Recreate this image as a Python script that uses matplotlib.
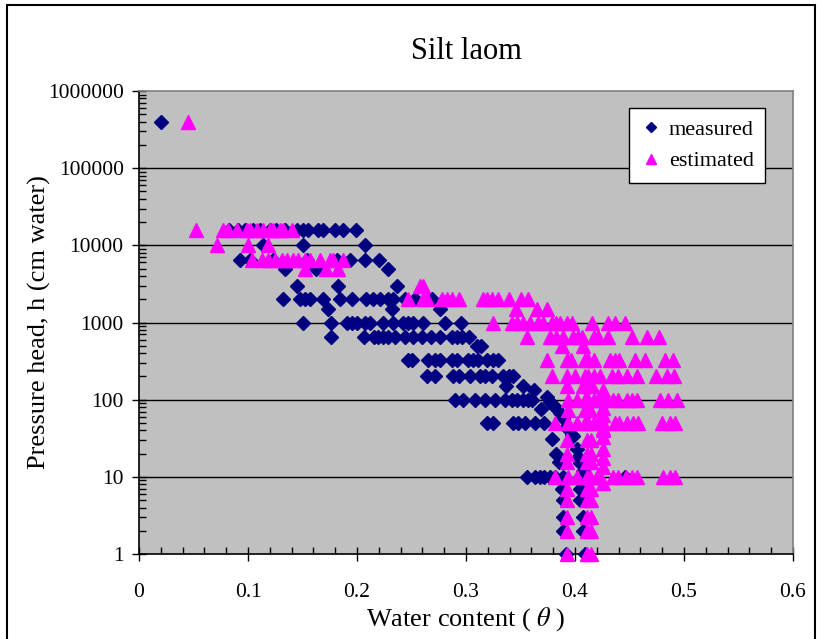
import numpy as np
import matplotlib
matplotlib.use("Agg")
import matplotlib.pyplot as plt
from matplotlib.patches import Rectangle
from matplotlib.ticker import FixedLocator, LogLocator, NullFormatter, MultipleLocator

plt.rcParams['font.family'] = ['Liberation Serif', 'DejaVu Serif']
plt.rcParams['mathtext.fontset'] = 'stix'

# ---------------- data ----------------
meas_theta = [
    0.020,
    0.083, 0.091, 0.097, 0.105, 0.111, 0.120, 0.126, 0.134, 0.145, 0.150, 0.155, 0.164, 0.169, 0.180, 0.187, 0.199,
    0.114, 0.150, 0.207,
    0.093, 0.102, 0.123, 0.154, 0.182, 0.194, 0.207, 0.220,
    0.134, 0.162, 0.228,
    0.145, 0.183, 0.237,
    0.132, 0.148, 0.152, 0.157, 0.169, 0.184, 0.195, 0.208, 0.215, 0.221, 0.228, 0.233, 0.244, 0.253, 0.269,
    0.173, 0.232, 0.276,
    0.150, 0.176, 0.191, 0.195, 0.200, 0.207, 0.212, 0.224, 0.233, 0.242, 0.247, 0.251, 0.261, 0.281, 0.295,
    0.176, 0.206, 0.216, 0.219, 0.224, 0.228, 0.235, 0.244, 0.251, 0.260, 0.268, 0.276, 0.287, 0.292, 0.296, 0.303,
    0.310, 0.314,
    0.247, 0.250, 0.265, 0.272, 0.276, 0.287, 0.292, 0.302, 0.306, 0.311, 0.319, 0.325, 0.329,
    0.264, 0.272, 0.288, 0.294, 0.304, 0.313, 0.317, 0.324, 0.334, 0.339, 0.343,
    0.337, 0.352,
    0.362, 0.374, 0.377, 0.380, 0.383, 0.386, 0.389, 0.392, 0.397,
    0.290, 0.297, 0.308, 0.317, 0.327, 0.336, 0.342, 0.347, 0.352, 0.357, 0.361,
    0.369,
    0.319, 0.325, 0.343, 0.348, 0.354, 0.363, 0.372,
    0.379, 0.398, 0.383, 0.385, 0.402, 0.403, 0.405, 0.407, 0.393,
    0.356, 0.363, 0.368, 0.372, 0.377, 0.382, 0.389, 0.405, 0.446,
    0.388, 0.405,
    0.389, 0.405,
    0.389, 0.407,
    0.389, 0.407,
    0.392, 0.409,
]
meas_h = [
    400000,
    *[15800] * 16,
    *[10000] * 3,
    *[6500] * 8,
    *[5000] * 3,
    *[3000] * 3,
    *[2000] * 15,
    *[1500] * 3,
    *[1000] * 15,
    *[650] * 16,
    *[500] * 2,
    *[330] * 13,
    *[200] * 11,
    *[150] * 2,
    133, 108, 93, 85, 78, 67, 58, 44, 35,
    *[100] * 11,
    75,
    *[50] * 7,
    31, 34, 20, 15.6, 23, 18, 15, 12, 43,
    *[10] * 9,
    *[7] * 2,
    *[5] * 2,
    *[3] * 2,
    *[2] * 2,
    *[1] * 2,
]

est_theta = [
    0.045,
    0.052, 0.077, 0.082, 0.090, 0.099, 0.102, 0.108, 0.114, 0.120, 0.123, 0.129, 0.132, 0.140,
    0.072, 0.100, 0.118,
    0.104, 0.113, 0.118, 0.125, 0.131, 0.136, 0.141, 0.146, 0.152, 0.157, 0.166, 0.175, 0.178, 0.187,
    0.152, 0.172, 0.183,
    0.258, 0.261,
    0.247, 0.261, 0.264, 0.278, 0.283, 0.287, 0.294, 0.316, 0.319, 0.324, 0.329, 0.339, 0.350, 0.357,
    0.346, 0.365, 0.374,
    0.325, 0.342, 0.347, 0.352, 0.359, 0.366, 0.371, 0.379, 0.383, 0.386, 0.393, 0.397, 0.416, 0.430, 0.437, 0.446,
    0.356, 0.377, 0.383, 0.389, 0.398, 0.403, 0.406, 0.417, 0.421, 0.430, 0.452, 0.466, 0.477,
    0.388, 0.407,
    0.374, 0.393, 0.396, 0.409, 0.412, 0.417, 0.432, 0.437, 0.440, 0.455, 0.464, 0.483, 0.490,
    0.379, 0.393, 0.400, 0.409, 0.412, 0.417, 0.423, 0.434, 0.439, 0.448, 0.457, 0.474, 0.484, 0.491,
    0.393, 0.407, 0.412, 0.416,
    0.394, 0.402, 0.409, 0.412, 0.417, 0.421, 0.426, 0.435, 0.439, 0.448, 0.452, 0.457, 0.478, 0.485, 0.494,
    0.394, 0.409, 0.414,
    0.382, 0.394, 0.402, 0.409, 0.412, 0.417, 0.421, 0.426, 0.437, 0.440, 0.448, 0.453, 0.458, 0.480, 0.487, 0.492,
    0.426, 0.426, 0.426, 0.426, 0.426, 0.426, 0.426, 0.426, 0.426, 0.426, 0.426,
    0.393, 0.393, 0.393, 0.393, 0.393, 0.393, 0.393, 0.393,
    0.411, 0.411, 0.411, 0.411, 0.411, 0.411, 0.411, 0.411,
    0.415, 0.415, 0.415, 0.415, 0.415, 0.415, 0.415, 0.415,
    0.382, 0.394, 0.402, 0.411, 0.414, 0.420, 0.423, 0.435, 0.439, 0.447, 0.452, 0.457, 0.481, 0.487, 0.492,
]
est_h = [
    400000,
    *[15800] * 13,
    *[10000] * 3,
    *[6500] * 14,
    *[5000] * 3,
    *[3000] * 2,
    *[2000] * 14,
    *[1500] * 3,
    *[1000] * 16,
    *[650] * 13,
    *[500] * 2,
    *[330] * 13,
    *[200] * 14,
    *[150] * 4,
    *[100] * 15,
    *[73] * 3,
    *[50] * 16,
    133, 115, 78, 63, 43, 40, 33, 23, 17.5, 13.4, 8.3,
    30, 20, 15.5, 7, 5, 3, 2, 1,
    30, 20, 15.5, 7, 5, 3, 2, 1,
    30, 20, 15.5, 7, 5, 3, 2, 1,
    *[10] * 15,
]

y_ticks = [1, 10, 100, 1000, 10000, 100000, 1000000]
y_tick_labels = ['1', '10', '100', '1000', '10000', '100000', '1000000']
x_ticks = [0, 0.1, 0.2, 0.3, 0.4, 0.5, 0.6]
x_tick_labels = ['0', '0.1', '0.2', '0.3', '0.4', '0.5', '0.6']

# ---------------- figure ----------------
W, H = 823, 639
fig = plt.figure(figsize=(W / 100, H / 100), dpi=100)
fig.patch.set_facecolor('white')
ax = fig.add_axes([139 / W, 1 - 554 / H, (793 - 139) / W, (554 - 91) / H])
ax.set_facecolor('#C0C0C0')

ax.set_yscale('log')
ax.set_xlim(0, 0.6)
ax.set_ylim(1, 1000000)

for yv in y_ticks[1:-1]:
    ax.axhline(yv, color='black', lw=1.0, zorder=1)

ax.plot(meas_theta, meas_h, linestyle='none', marker='D', markersize=7,
        color='#000080', markeredgecolor='#000080', label='measured', zorder=3,
        clip_on=False)
ax.plot(est_theta, est_h, linestyle='none', marker='^', markersize=9.5,
        color='#FF00FF', markeredgecolor='#FF00FF', label='estimated', zorder=4,
        clip_on=False)

ax.yaxis.set_major_locator(FixedLocator(y_ticks))
ax.set_yticklabels(y_tick_labels)
ax.yaxis.set_minor_locator(LogLocator(base=10, subs=np.arange(2, 10)))
ax.yaxis.set_minor_formatter(NullFormatter())
ax.set_xticks(x_ticks)
ax.set_xticklabels(x_tick_labels)
ax.xaxis.set_minor_locator(MultipleLocator(0.02))

ax.tick_params(axis='both', which='major', direction='inout', length=10, width=1, labelsize=15.5, color='black')
ax.tick_params(axis='y', which='major', pad=6)
ax.tick_params(axis='x', which='major', pad=16)
ax.tick_params(axis='both', which='minor', direction='in', length=5, width=1, color='black')

for s in ['top', 'right']:
    ax.spines[s].set_color('#808080')
    ax.spines[s].set_linewidth(1.2)
for s in ['left', 'bottom']:
    ax.spines[s].set_color('black')
    ax.spines[s].set_linewidth(1.2)

ax.set_title('Silt laom', fontsize=22, pad=23)
ax.set_xlabel(r'Water content ( $\theta$ )', fontsize=19, labelpad=2)
ax.set_ylabel('Pressure head, h (cm water)', fontsize=19)
ax.yaxis.set_label_coords(-0.135, 0.5)

leg = ax.legend(loc='upper right', bbox_to_anchor=(0.957, 0.963), borderaxespad=0,
                fontsize=16, frameon=True, fancybox=False, shadow=False,
                handletextpad=0.3, handlelength=1.0, borderpad=0.5,
                labelspacing=0.5, markerscale=0.8)
leg.get_frame().set_edgecolor('black')
leg.get_frame().set_facecolor('white')
leg.get_frame().set_linewidth(1.0)
leg.get_frame().set_alpha(1)

fig.add_artist(Rectangle((7 / W, -0.01), (815 - 7) / W, 1 - 5 / H + 0.01,
                         transform=fig.transFigure, fill=False,
                         edgecolor='black', linewidth=1.5))

fig.savefig('out.png', dpi=100)
